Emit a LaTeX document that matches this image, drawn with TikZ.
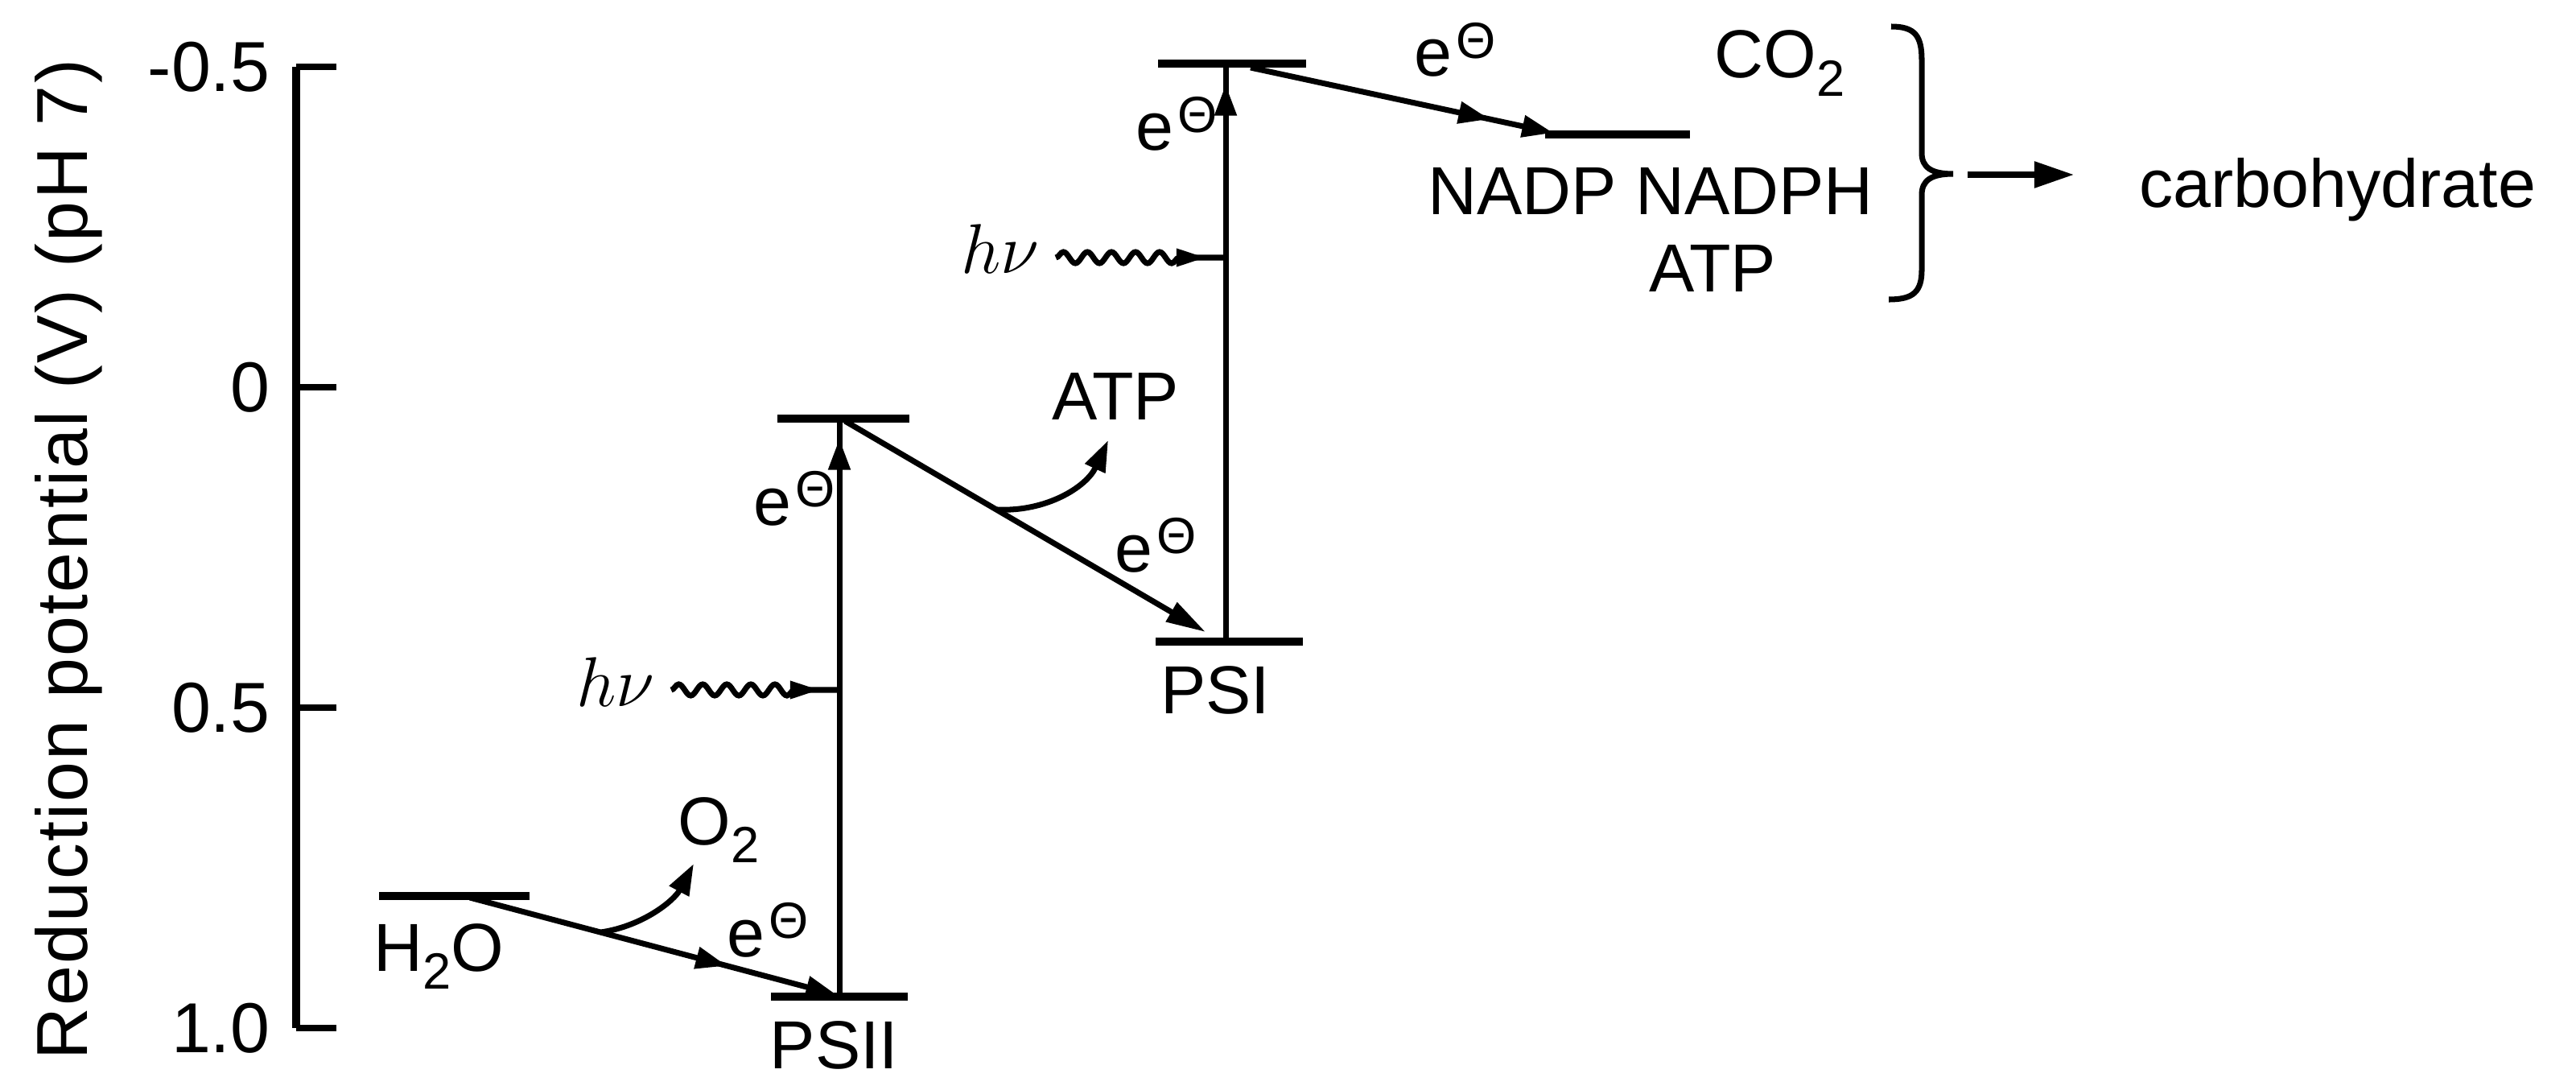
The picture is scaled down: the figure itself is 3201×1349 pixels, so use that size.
\documentclass[tikz,border=0pt]{standalone}
\usepackage{fontspec}
\setmainfont{Liberation Sans}
\usetikzlibrary{arrows.meta,decorations.pathmorphing,decorations.markings}
\newcommand{\elec}{e\hspace{1.5pt}\raisebox{6.5pt}{\fontsize{18}{18}\selectfont Θ}}
\newcommand{\mysub}[1]{\raisebox{-6.5pt}{\fontsize{18}{18}\selectfont #1}}
\begin{document}
\begin{tikzpicture}[x=0.01cm,y=-0.01cm,
  lbl/.style={inner sep=0pt, font=\fontsize{24}{28}\selectfont},
  axlbl/.style={inner sep=0pt, font=\fontsize{25}{30}\selectfont, anchor=east},
  axisline/.style={line width=2.6pt},
  tickline/.style={line width=2pt},
  lvl/.style={line width=2.8pt},
  conn/.style={line width=2pt},
  tipend/.style={-{Triangle[length=11pt,width=7.5pt]}},
  midtip/.style={postaction={decorate}, decoration={markings, mark=at position #1 with {\arrow{Triangle[length=11pt,width=7.5pt]}}}},
  wavy/.style={postaction={draw, line width=2pt, decorate, decoration={snake, amplitude=2pt, segment length=8.5pt, post length=0.55cm}},
               postaction={decorate, decoration={markings, mark=at position -0.26cm with {\arrow{Triangle[length=10pt,width=6.5pt]}}}}}
]
\fill[white] (0,0) rectangle (3201,1349);
\useasboundingbox (0,0) rectangle (3201,1349);

% ---------- axis ----------
\coordinate (axtop) at (368,83);
\coordinate (axbot) at (368,1277);
\coordinate (tk1) at (418,83);
\coordinate (tk2a) at (368,481);  \coordinate (tk2) at (418,481);
\coordinate (tk3a) at (368,879);  \coordinate (tk3) at (418,879);
\coordinate (tk4) at (418,1277);
\draw[axisline] (axtop) -- (axbot);
\draw[tickline] (axtop) -- (tk1);
\draw[tickline] (tk2a) -- (tk2);
\draw[tickline] (tk3a) -- (tk3);
\draw[tickline] (axbot) -- (tk4);
\node[axlbl] (l1) at (336,83) {-0.5};
\node[axlbl] (l2) at (336,481) {0};
\node[axlbl] (l3) at (336,879) {0.5};
\node[axlbl] (l4) at (336,1277) {1.0};
\node[rotate=90, anchor=base, inner sep=0pt, font=\fontsize{25.5}{30}\selectfont\addfontfeature{LetterSpace=2.5}] (ylab) at (108,695) {Reduction potential (V) (pH 7)};

% ---------- energy levels ----------
\coordinate (h2oL) at (471,1113);  \coordinate (h2oR) at (658,1113);
\coordinate (psiiL) at (958,1238); \coordinate (psiiR) at (1128,1238);
\coordinate (psiisL) at (966,520); \coordinate (psiisR) at (1130,520);
\coordinate (psiL) at (1436,797);  \coordinate (psiR) at (1619,797);
\coordinate (psisL) at (1439,79);  \coordinate (psisR) at (1623,79);
\coordinate (nadL) at (1920,167);  \coordinate (nadR) at (2100,167);
\draw[lvl] (h2oL) -- (h2oR);
\draw[lvl] (psiiL) -- (psiiR);
\draw[lvl] (psiisL) -- (psiisR);
\draw[lvl] (psiL) -- (psiR);
\draw[lvl] (psisL) -- (psisR);
\draw[lvl] (nadL) -- (nadR);

% ---------- electron transfer ----------
\coordinate (a1s) at (584,1115);  \coordinate (a1e) at (1040,1236);
\draw[conn, tipend, midtip=0.7] (a1s) -- (a1e);
\coordinate (o2s) at (747,1158);  \coordinate (o2e) at (862,1073);
\draw[conn, tipend] (o2s) .. controls (800,1150) and (838,1118) .. (o2e);

\coordinate (v1b) at (1043,1238); \coordinate (v1t) at (1043,520);
\draw[conn, midtip=-0.25cm] (v1b) -- (v1t);
\coordinate (hv1s) at (834,857);  \coordinate (hv1e) at (1043,857);
\path[wavy] (hv1s) -- (hv1e);

\coordinate (d2s) at (1050,523);  \coordinate (d2e) at (1498,785);
\draw[conn, -{Triangle[length=14pt,width=7.5pt]}] (d2s) -- (d2e);
\coordinate (atps) at (1239,633); \coordinate (atpe) at (1377,547);
\draw[conn, tipend] (atps) .. controls (1300,636) and (1350,605) .. (atpe);

\coordinate (v2b) at (1523,797);  \coordinate (v2t) at (1523,79);
\draw[conn, midtip=-0.26cm] (v2b) -- (v2t);
\coordinate (hv2s) at (1312,320); \coordinate (hv2e) at (1523,320);
\path[wavy] (hv2s) -- (hv2e);

\coordinate (d3s) at (1554,84);   \coordinate (d3e) at (1930,165);
\draw[conn, tipend, midtip=0.79] (d3s) -- (d3e);

% ---------- brace and product arrow ----------
\coordinate (brtop) at (2350,33);
\coordinate (brtip) at (2427,216);
\coordinate (brbot) at (2347,372);
\draw[conn] (brtop) .. controls (2380,33) and (2388,45) .. (2388,75) -- (2388,190)
  .. controls (2388,208) and (2400,216) .. (brtip)
  .. controls (2400,216) and (2388,224) .. (2388,242) -- (2388,335)
  .. controls (2388,362) and (2378,372) .. (brbot);
\coordinate (ps) at (2445,217); \coordinate (pe) at (2577,217);
\draw[conn, -{Triangle[length=14pt,width=9pt]}] (ps) -- (pe);

% ---------- labels ----------
\node[lbl, anchor=base west] (h2o) at (464,1206) {H\mysub{2}O};
\node[lbl, anchor=base west] (o2) at (842,1049) {O\mysub{2}};
\node[lbl, anchor=base west] (psii) at (956,1327) {PSII};
\node[lbl, anchor=base west] (e1) at (903,1188) {\elec};
\node[lbl, anchor=base west] (hv1) at (716,877) {$h\nu$};
\node[lbl, anchor=base west] (e2) at (936,652) {\elec};
\node[lbl] (atp1) at (1386,492) {ATP};
\node[lbl, anchor=base west] (e3) at (1385,710) {\elec};
\node[lbl, anchor=base] (psi) at (1510,886) {PSI};
\node[lbl, anchor=base west] (e4) at (1411,187) {\elec};
\node[lbl, anchor=base west] (hv2) at (1194,340) {$h\nu$};
\node[lbl, anchor=base west] (e5) at (1757,95) {\elec};
\node[lbl, anchor=base west] (co2) at (2130,97) {CO\mysub{2}};
\node[lbl] (nadp) at (2051,237) {NADP NADPH};
\node[lbl] (atp2) at (2128,333) {ATP};
\node[lbl, anchor=base west] (carb) at (2658,258) {carbohydrate};
\end{tikzpicture}
\end{document}
